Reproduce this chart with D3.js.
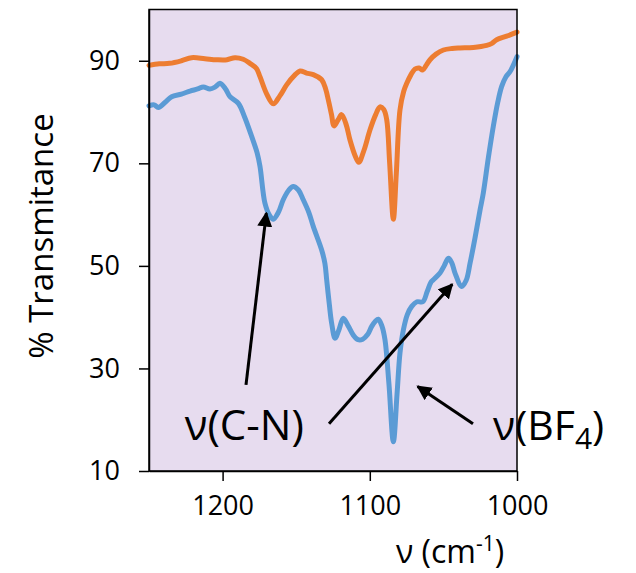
<!DOCTYPE html>
<html><head><meta charset="utf-8">
<script src="https://cdn.jsdelivr.net/npm/d3@7"></script>
<style>html,body{margin:0;padding:0;background:#fff;} svg{display:block;} text{font-family:"Open Sans",sans-serif;fill:#000;}</style>
</head><body>
<svg id="c" width="636" height="573"></svg>
<script>
// Wavenumber (cm-1) and % transmittance
const orangeX = [1250,1243,1236,1228,1221,1212,1204,1197,1191.6,1186,1181.4,1177,1174.6,1170,1165.6,1161,1156.5,1151,1147.4,1143,1138.4,1132.7,1130,1128.2,1126,1124.3,1121.5,1119.1,1116,1113.5,1110,1107.5,1104,1099.9,1096,1093.1,1090.5,1088.5,1086.5,1084,1082,1079.5,1077,1074.9,1072,1069.3,1066.5,1064.1,1061.5,1059.1,1055,1050,1044,1038.7,1029.7,1020.6,1017,1013.8,1007,1000];
const orangeY = [89.1,89.4,89.5,90.0,90.6,90.4,90.2,90.2,90.6,90.3,89.5,88.5,86.9,83.5,81.6,83.2,85.3,87.2,88.0,87.6,87.3,86.3,84.5,82.4,79.5,77.3,78.5,79.5,77.5,74.6,71.5,70.2,72.5,76.5,79.5,81.0,80.5,78.5,70,59.1,68,80.4,84,85.6,87.3,88.4,88.6,88.2,89.2,90.2,91.3,92.1,92.4,92.5,92.6,93.0,93.4,94.1,94.8,95.6];
const blueX = [1250,1246.5,1243.7,1239,1234.6,1228,1222.1,1217,1213.1,1208.6,1205,1201.8,1198,1195,1189.3,1185,1180.2,1176.5,1174.6,1171.2,1168,1165.6,1162,1158.8,1155,1152,1148.5,1145.2,1141.5,1138.4,1132.7,1130.5,1129.3,1127.5,1125.9,1123.6,1121,1118,1114.5,1111.2,1108,1104.8,1101.5,1098.7,1096.2,1094.2,1091.8,1089.7,1087,1084,1081.5,1079.5,1077.2,1074.5,1071.5,1068,1064,1061,1058.5,1056.8,1052.3,1049.5,1046.6,1044.3,1042.1,1037.6,1034.5,1031.9,1028.5,1025.1,1022.9,1019.5,1016.1,1013,1010.4,1007.5,1004.7,1000];
const blueY = [81.2,81.4,80.9,81.9,83.0,83.5,84.1,84.5,84.9,84.5,84.9,85.6,84.5,83.0,81.7,79.0,75.2,72.0,69.4,62.2,59.8,59.1,60.5,62.9,64.8,65.5,64.8,62.9,60.5,57.7,53.1,50.5,47.3,42.5,38.8,35.9,37.5,39.8,38.2,36.5,35.6,35.7,36.6,38.2,39.2,39.6,38.3,35.6,27,15.7,25,33,37.5,40.5,42.1,43.0,43.0,45.0,46.8,47.3,48.6,50.0,51.5,50.6,48.6,46.0,47.2,50.5,55.5,60.9,64.2,71.0,77.2,82.0,85.0,86.9,87.9,90.8];
const xTicks = [1200,1100,1000];
const yTicks = [10,30,50,70,90];
// annotation arrows [x0,y0,x1,y1] in data units (tail -> head)
const arrowCN = [1184.1,26.8,1170.3,60.3];
const arrowBF1 = [1127.7,19.2,1044.0,46.4];
const arrowBF2 = [1029.9,19.2,1067.5,26.5];

const svg = d3.select("#c");
const L=149,R=517,T=9.5,B=471;
const x = d3.scaleLinear().domain([1250,1000]).range([L,R]);
const y = d3.scaleLinear().domain([10,100]).range([B,T]);

svg.append("rect").attr("x",L).attr("y",T).attr("width",R-L).attr("height",B-T).attr("fill","#E7DCEF");

const line = d3.line().x(d=>x(d[0])).y(d=>y(d[1])).curve(d3.curveCatmullRom.alpha(0.5));
svg.append("path").datum(orangeX.map((v,i)=>[v,orangeY[i]])).attr("d",line)
  .attr("fill","none").attr("stroke","#ED7D31").attr("stroke-width",5).attr("stroke-linejoin","round").attr("stroke-linecap","round");
svg.append("path").datum(blueX.map((v,i)=>[v,blueY[i]])).attr("d",line)
  .attr("fill","none").attr("stroke","#5B9BD5").attr("stroke-width",5).attr("stroke-linejoin","round").attr("stroke-linecap","round");

// frame
svg.append("rect").attr("x",L).attr("y",T).attr("width",R-L).attr("height",B-T).attr("fill","none").attr("stroke","#000").attr("stroke-width",1.5);

const xa = svg.append("g").attr("transform",`translate(0,${B})`)
  .call(d3.axisBottom(x).tickValues(xTicks).tickFormat(d3.format("d")).tickSize(10).tickPadding(15).tickSizeOuter(0));
const ya = svg.append("g").attr("transform",`translate(${L},0)`)
  .call(d3.axisLeft(y).tickValues(yTicks).tickFormat(d3.format("d")).tickSize(10).tickPadding(19).tickSizeOuter(0));
[xa,ya].forEach(g=>{
  g.select(".domain").attr("stroke","#000").attr("stroke-width",1.5);
  g.selectAll(".tick line").attr("stroke","#000").attr("stroke-width",1.5);
  g.selectAll(".tick text").style("font-family","'Open Sans',sans-serif").style("font-size","27px").attr("fill","#000");
});

svg.append("text").attr("transform",`translate(53,${236}) rotate(-90)`).attr("text-anchor","middle")
  .style("font-size","33px").text("% Transmitance");

const xt = svg.append("text").attr("x",450).attr("y",563).attr("text-anchor","middle").style("font-size","32px");
xt.append("tspan").text("ν (cm");
xt.append("tspan").attr("dy",-12).style("font-size","21px").text("-1");
xt.append("tspan").attr("dy",12).text(")");

// annotations
svg.append("defs").append("marker").attr("id","ah").attr("viewBox","0 0 10 10").attr("refX",9).attr("refY",5)
  .attr("markerWidth",5).attr("markerHeight",5).attr("orient","auto").attr("markerUnits","strokeWidth")
  .append("path").attr("d","M0,0 L10,5 L0,10 Z").attr("fill","#000");
[arrowCN,arrowBF1,arrowBF2].forEach(a=>{
  svg.append("line").attr("x1",x(a[0])).attr("y1",y(a[1])).attr("x2",x(a[2])).attr("y2",y(a[3]))
    .attr("stroke","#000").attr("stroke-width",3).attr("marker-end","url(#ah)");
});
svg.append("text").attr("x",x(1185.3)).attr("y",y(16.0)).attr("text-anchor","middle").style("font-size","42px").text("ν(C-N)");
const bf = svg.append("text").attr("x",x(1016.3)).attr("y",y(16.0)).style("font-size","41px");
bf.append("tspan").text("ν(BF");
bf.append("tspan").attr("dy",9).style("font-size","30px").text("4");
bf.append("tspan").attr("dy",-9).text(")");
</script>
</body></html>
